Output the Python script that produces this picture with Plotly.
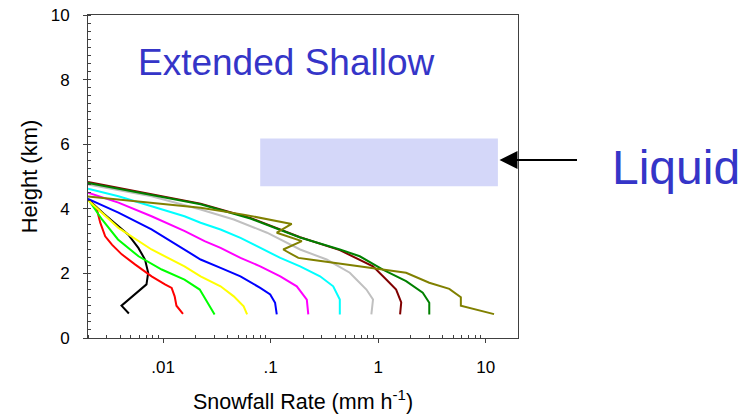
import math
import plotly.graph_objects as go

# ---------------- data ----------------
series_names = ["black", "red", "green", "yellow", "blue", "magenta",
                "cyan", "gray", "darkred", "darkgreen", "olive"]
series_colors = ["#000000", "#FF0000", "#00FF00", "#FFFF00", "#0000FF", "#FF00FF",
                 "#00FFFF", "#C0C0C0", "#800000", "#008000", "#808000"]

black_x = [0.002, 0.0028, 0.00384, 0.00474, 0.00588, 0.00678, 0.00726, 0.0070, 0.0041, 0.0048]
black_y = [4.30, 3.85, 3.46, 3.20, 2.79, 2.43, 2.02, 1.66, 1.00, 0.76]

red_x = [0.002, 0.00242, 0.00260, 0.00289, 0.00334, 0.00412, 0.00547, 0.00781, 0.0104, 0.0120, 0.0128, 0.0133, 0.0153]
red_y = [4.30, 3.98, 3.57, 3.15, 2.89, 2.59, 2.28, 1.91, 1.66, 1.55, 1.29, 1.00, 0.75]

green_x = [0.002, 0.0027, 0.0038, 0.0059, 0.0097, 0.0158, 0.0219, 0.0261, 0.0301]
green_y = [4.30, 3.67, 3.05, 2.53, 2.12, 1.81, 1.50, 1.09, 0.73]

yellow_x = [0.002, 0.00384, 0.0078, 0.0158, 0.0223, 0.0342, 0.0454, 0.0561, 0.0604]
yellow_y = [4.27, 3.41, 2.74, 2.22, 1.91, 1.60, 1.29, 0.98, 0.73]

blue_x = [0.002, 0.00384, 0.0078, 0.0158, 0.0223, 0.0342, 0.0524, 0.080, 0.0991, 0.110, 0.114]
blue_y = [4.31, 3.88, 3.36, 2.74, 2.43, 2.17, 1.91, 1.55, 1.35, 1.09, 0.73]

magenta_x = [0.002, 0.00384, 0.0078, 0.0159, 0.0243, 0.0342, 0.0524, 0.080, 0.123, 0.175, 0.217, 0.224]
magenta_y = [4.50, 4.19, 3.77, 3.31, 3.00, 2.79, 2.48, 2.22, 1.91, 1.60, 1.19, 0.73]

cyan_x = [0.002, 0.00384, 0.0078, 0.0158, 0.0223, 0.0342, 0.0524, 0.080, 0.123, 0.188, 0.288, 0.382, 0.440, 0.440]
cyan_y = [4.62, 4.39, 4.08, 3.77, 3.57, 3.36, 3.10, 2.78, 2.48, 2.22, 1.91, 1.60, 1.19, 0.73]

gray_x = [0.002, 0.0078, 0.0223, 0.0454, 0.0925, 0.188, 0.332, 0.545, 0.628, 0.778, 0.896, 0.865]
gray_y = [4.75, 4.39, 3.98, 3.67, 3.26, 2.74, 2.43, 2.02, 1.81, 1.50, 1.19, 0.73]

darkred_x = [0.002, 0.0223, 0.0647, 0.188, 0.44, 0.895, 1.19, 1.47, 1.64, 1.60]
darkred_y = [4.83, 4.16, 3.72, 3.12, 2.72, 2.22, 1.81, 1.50, 1.10, 0.73]

darkgreen_x = [0.002, 0.0223, 0.0647, 0.188, 0.44, 0.674, 1.107, 1.82, 2.60, 2.99, 2.99]
darkgreen_y = [4.80, 4.14, 3.70, 3.11, 2.74, 2.53, 2.12, 1.76, 1.40, 1.09, 0.73]

olive_x = [0.002, 0.0223, 0.0561, 0.157, 0.114, 0.195, 0.131, 0.181, 0.232, 0.382, 1.107, 1.82, 2.99, 4.59, 5.88, 5.88, 11.97]
olive_y = [4.38, 4.03, 3.82, 3.53, 3.26, 3.00, 2.74, 2.48, 2.43, 2.33, 2.14, 2.02, 1.71, 1.52, 1.26, 1.00, 0.74]

series_x = [black_x, red_x, green_x, yellow_x, blue_x, magenta_x,
            cyan_x, gray_x, darkred_x, darkgreen_x, olive_x]
series_y = [black_y, red_y, green_y, yellow_y, blue_y, magenta_y,
            cyan_y, gray_y, darkred_y, darkgreen_y, olive_y]

liquid_x = [0.08, 13.0]
liquid_y = [4.70, 6.18]

x_range = [0.002, 20]
y_range = [0, 10]
x_tickvals = [0.01, 0.1, 1, 10]
x_ticktext = [".01", ".1", "1", "10"]

title_text = "Extended Shallow"
liquid_text = "Liquid"
x_title = "Snowfall Rate (mm h<sup>-1</sup>)"
y_title = "Height (km)"

# ---------------- figure ----------------
FONT = "Arial, 'Liberation Sans', sans-serif"
TEXT_BLUE = "#3535C8"
BOX_COLOR = "#D4D7F9"
AX = "#404040"

fig = go.Figure()

# liquid box
fig.add_trace(go.Scatter(
    x=[liquid_x[0], liquid_x[1], liquid_x[1], liquid_x[0], liquid_x[0]],
    y=[liquid_y[0], liquid_y[0], liquid_y[1], liquid_y[1], liquid_y[0]],
    mode="lines", fill="toself", fillcolor=BOX_COLOR,
    line=dict(width=0, color=BOX_COLOR), hoverinfo="skip", showlegend=False))

for name, col, xs, ys in zip(series_names, series_colors, series_x, series_y):
    fig.add_trace(go.Scatter(x=xs, y=ys, mode="lines", name=name,
                             line=dict(color=col, width=2), showlegend=False))

minor_x = [m * 10 ** k for k in range(-3, 2) for m in range(2, 10)
           if x_range[0] <= m * 10 ** k <= x_range[1]]

W, H = 754, 417
PL, PT, PR, PB = 88, 15, 518, 338

fig.update_layout(
    template="none",
    width=W, height=H,
    margin=dict(l=PL, r=W - PR, t=PT, b=H - PB, autoexpand=False),
    paper_bgcolor="white", plot_bgcolor="white",
    font=dict(family=FONT, color="black"),
    showlegend=False,
    xaxis=dict(
        type="log", automargin=False,
        range=[math.log10(x_range[0]), math.log10(x_range[1])],
        tickmode="array", tickvals=x_tickvals, ticktext=x_ticktext,
        ticks="outside", ticklen=4, tickwidth=1, tickcolor=AX,
        showline=True, linecolor=AX, linewidth=1, mirror=True,
        showgrid=False, zeroline=False,
        tickfont=dict(size=17, family=FONT, color="black"),
        ticklabelstandoff=10, ticklabeloverflow="allow",
        minor=dict(tickmode="array", tickvals=minor_x, ticks="inside",
                   ticklen=3, tickwidth=1, tickcolor=AX, showgrid=False),
        title=dict(text=x_title, font=dict(size=21.5, family=FONT, color="black"), standoff=17),
    ),
    yaxis=dict(
        automargin=False,
        range=y_range, dtick=2, tick0=0,
        ticks="outside", ticklen=4, tickwidth=1, tickcolor=AX,
        showline=True, linecolor=AX, linewidth=1, mirror=True,
        showgrid=False, zeroline=False,
        tickfont=dict(size=17, family=FONT, color="black"),
        ticklabelstandoff=10, ticklabeloverflow="allow",
        minor=dict(dtick=0.25, tick0=0, ticks="inside", ticklen=3,
                   tickwidth=1, tickcolor=AX, showgrid=False),
        title=dict(text=y_title, font=dict(size=22, family=FONT, color="black"), standoff=6),
    ),
)

PW, PH = PR - PL, PB - PT


def px(xp):
    return (xp - PL) / PW


def py(yp):
    return (PB - yp) / PH


fig.add_annotation(text=title_text, xref="paper", yref="paper",
                   x=px(285.5), y=py(62), xanchor="center", yanchor="middle",
                   showarrow=False, font=dict(size=37, color=TEXT_BLUE, family=FONT))
fig.add_annotation(text=liquid_text, xref="paper", yref="paper",
                   x=px(676), y=py(167), xanchor="center", yanchor="middle",
                   showarrow=False, font=dict(size=48, color=TEXT_BLUE, family=FONT))
# arrow pointing at the liquid layer
fig.add_annotation(text="", xref="paper", yref="paper",
                   x=px(499.5), y=py(160), ax=79, ay=0, axref="pixel", ayref="pixel",
                   showarrow=True, arrowhead=2, arrowsize=2.0, arrowwidth=1.8,
                   arrowcolor="black")

fig.write_html("out.html",
               config={"displayModeBar": False, "staticPlot": True},
               post_script="document.body.style.margin='0';document.body.style.overflow='hidden';")
